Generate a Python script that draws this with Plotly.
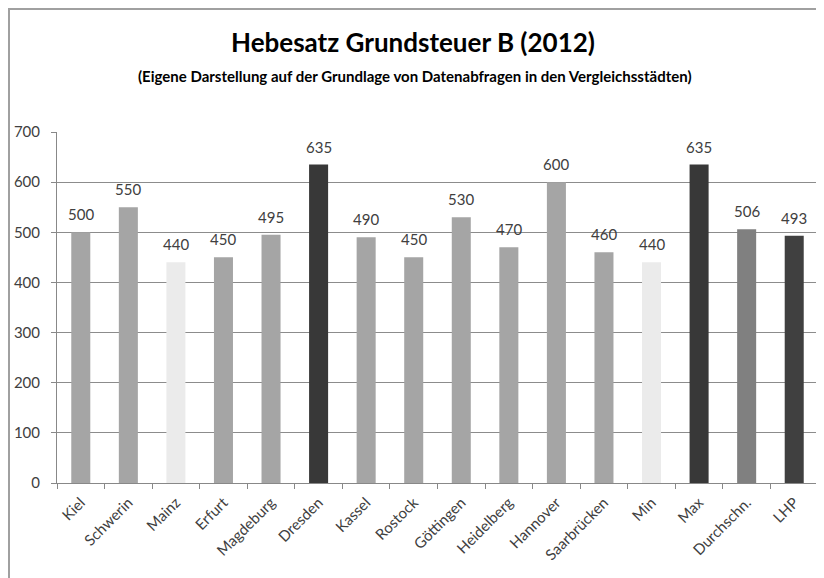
import plotly.graph_objects as go

cities = ["Kiel", "Schwerin", "Mainz", "Erfurt", "Magdeburg", "Dresden", "Kassel", "Rostock",
          "Göttingen", "Heidelberg", "Hannover", "Saarbrücken", "Min", "Max", "Durchschn.", "LHP"]
values = [500, 550, 440, 450, 495, 635, 490, 450, 530, 470, 600, 460, 440, 635, 506, 493]
colors = ["#A5A5A5", "#A5A5A5", "#EBEBEB", "#A5A5A5", "#A5A5A5", "#383838", "#A5A5A5", "#A5A5A5",
          "#A5A5A5", "#A5A5A5", "#A5A5A5", "#A5A5A5", "#EBEBEB", "#383838", "#808080", "#404040"]
y_ticks = [0, 100, 200, 300, 400, 500, 600, 700]

FONT = "Lato, sans-serif"
OFF = 8  # browser body margin

# target pixel positions in window
PL, PR, PT, PB = 57, 818, 132, 483
W, H = 824 - OFF, 578 - OFF
L, T = PL - OFF, PT - OFF
R = W - (PR - OFF)
B = H - (PB - OFF)
pw, ph = PR - PL, PB - PT

def px_x(x):
    return (x - PL) / pw

def px_y(y):
    return (PB - y) / ph

fig = go.Figure(go.Bar(
    x=cities, y=values, marker=dict(color=colors, line=dict(width=0)),
    width=0.4, hoverinfo="x+y",
))

annotations = [
    dict(text="<b>Hebesatz Grundsteuer B (2012)</b>", xref="paper", yref="paper",
         x=px_x(413), y=px_y(42), xanchor="center", yanchor="middle", showarrow=False,
         font=dict(family=FONT, size=26, color="#000000")),
    dict(text="<b>(Eigene Darstellung auf der Grundlage von Datenabfragen in den Vergleichsstädten)</b>",
         xref="paper", yref="paper",
         x=px_x(415), y=px_y(76), xanchor="center", yanchor="middle", showarrow=False,
         font=dict(family=FONT, size=15, color="#000000")),
]
for c, v in zip(cities, values):
    annotations.append(dict(
        x=c, y=v, xref="x", yref="y", text=str(v), showarrow=False,
        yanchor="bottom", yshift=7,
        font=dict(family=FONT, size=15, color="#404040"),
    ))

fig.update_layout(
    width=W, height=H,
    margin=dict(l=L, r=R, t=T, b=B, autoexpand=False),
    paper_bgcolor="white", plot_bgcolor="white",
    showlegend=False,
    font=dict(family=FONT, color="#404040"),
    annotations=annotations,
    xaxis=dict(
        type="category", tickson="boundaries", ticks="outside", ticklen=5, tickcolor="#888888",
        showline=True, linecolor="#888888", linewidth=1, tickangle=-45, ticklabelstandoff=4,
        tickfont=dict(family=FONT, size=15, color="#404040"), showgrid=False,
    ),
    yaxis=dict(
        range=[0, 700], tickvals=y_ticks, ticks="outside", ticklen=5, tickcolor="#888888",
        showline=True, linecolor="#888888", linewidth=1, ticklabelstandoff=8,
        gridcolor="#8C8C8C", gridwidth=1, zeroline=False,
        tickfont=dict(family=FONT, size=15, color="#404040"),
    ),
    shapes=[dict(
        type="rect", xref="paper", yref="paper",
        x0=px_x(9), x1=px_x(840),
        y0=px_y(620), y1=px_y(9),
        line=dict(color="#A0A0A0", width=2), layer="below",
    )],
)

fig.write_html("out.html")
